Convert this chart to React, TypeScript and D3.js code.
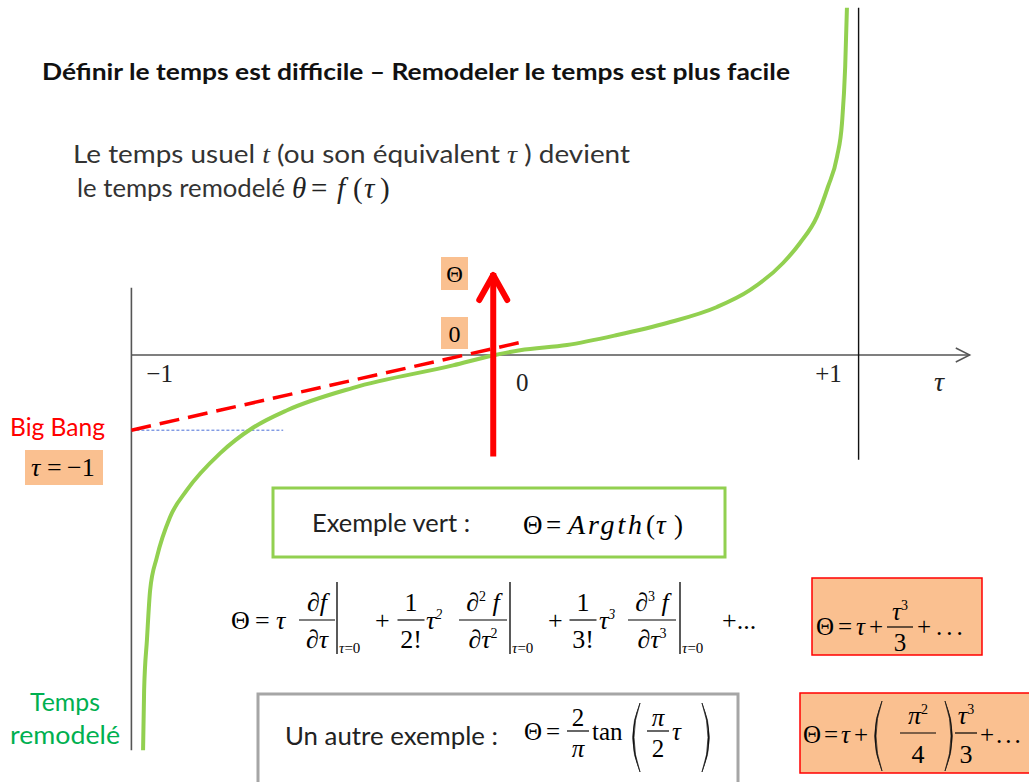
import React from 'react'
import * as d3 from 'd3'

const W = 1029
const H = 782

// courbe verte : tau -> theta
const curveTau = [-0.997, -0.994, -0.986, -0.977, -0.958, -0.921, -0.873, -0.779, -0.686, -0.589, -0.402, -0.119, 0, 0.071, 0.204, 0.346, 0.487, 0.629, 0.722, 0.816, 0.864, 0.912, 0.943, 0.969, 0.983, 0.992, 0.997]
const curveTheta = [-4.94, -4.19, -3.56, -2.94, -2.53, -2.03, -1.69, -1.23, -0.91, -0.69, -0.41, -0.13, 0, 0.06, 0.125, 0.25, 0.4, 0.6, 0.81, 1.15, 1.4, 1.73, 2.1, 2.48, 2.9, 3.6, 4.34]

// tangente rouge en pointillés
const tangentTau = [-1.03, 0.075]
const tangentTheta = [-0.94, 0.16]

// ligne bleue du Big Bang
const bigBangTau = [-1.03, -0.6]
const bigBangTheta = -0.94

// flèche rouge Theta
const arrowTau = -0.005
const arrowTheta = [-1.27, 1.05]

// axes
const hAxisTau = [-1.03, 1.345]
const leftAxisTau = -1.03
const leftAxisTheta = [0.84, -4.94]
const rightAxisTau = 1.03
const rightAxisTheta = [4.34, -1.31]

const tickLabels = ['−1', '0', '+1']
const tickLabelTau = [-0.95, 0.077, 0.945]

const GREEN = '#92d050'
const RED = '#ff0000'
const ORANGE = '#fac090'
const SERIF = '"Liberation Serif", "DejaVu Serif", serif'
const SANS = 'Lato, "Open Sans", sans-serif'

const x = d3.scaleLinear().domain([-1, 1]).range([142, 848])
const y = d3.scaleLinear().domain([-5, 5]).range([755, -45])

// petit texte math placé à la main
const M = ({ x, y, it, size = 26, children, ...rest }: any) => (
  <text x={x} y={y} fontFamily={SERIF} fontSize={size} fontStyle={it ? 'italic' : 'normal'} {...rest}>{children}</text>
)

const Frac = ({ cx, bar, w, num, den, size = 26, up = 9, down = 28 }: any) => (
  <g fontFamily={SERIF} fontSize={size}>
    <text x={cx} y={bar - up} textAnchor="middle">{num}</text>
    <line x1={cx - w / 2} x2={cx + w / 2} y1={bar} y2={bar} stroke="#000" strokeWidth={1.2} />
    <text x={cx} y={bar + down} textAnchor="middle">{den}</text>
  </g>
)

const Paren = ({ px, top, bottom, left = true }: any) => {
  const mid = (top + bottom) / 2
  const d = left ? -12 : 12
  return (
    <path
      d={`M${px},${top} Q${px + d},${mid} ${px},${bottom} Q${px + d * 1.22},${mid} ${px},${top} Z`}
      fill="#111" stroke="#111" strokeWidth={0.7}
    />
  )
}

const Eval = ({ bx, top, bottom }: any) => (
  <g>
    <line x1={bx} x2={bx} y1={top} y2={bottom} stroke="#000" strokeWidth={1.3} />
    <text x={bx + 2} y={bottom - 1} fontFamily={SERIF} fontSize={15}><tspan fontStyle="italic">τ</tspan>=0</text>
  </g>
)

const sup = (s: string) => <tspan dy={-10} fontSize={14}>{s}</tspan>

const App = () => {
  const line = d3.line<number>().x((_, i) => x(curveTau[i])).y((_, i) => y(curveTheta[i])).curve(d3.curveMonotoneX)
  const curvePath = line(curveTau) || ''
  const ax = x(arrowTau)
  const at = y(arrowTheta[1])

  return (
    <svg width={W} height={H} style={{ position: 'absolute', left: 0, top: 0, background: '#fff' }}>
      {/* titres */}
      <text x={42} y={80} fontFamily={SANS} fontWeight="bold" fontSize={23} textLength={748} lengthAdjust="spacingAndGlyphs" fill="#111">
        Définir le temps est difficile – Remodeler le temps est plus facile
      </text>
      <text x={73} y={163} fontFamily={SANS} fontSize={25} fill="#333" textLength={557} lengthAdjust="spacingAndGlyphs">
        Le temps usuel <tspan fontFamily={SERIF} fontStyle="italic">t</tspan> (ou son équivalent <tspan fontFamily={SERIF} fontStyle="italic">τ</tspan> ) devient
      </text>
      <text x={77} y={197} fontFamily={SANS} fontSize={25} fill="#333" textLength={208} lengthAdjust="spacingAndGlyphs">le temps remodelé</text>
      <g fill="#222">
        <M x={292} y={198} size={29} it>θ</M>
        <M x={311} y={198} size={29}>=</M>
        <M x={337} y={198} size={29} it>f</M>
        <M x={353} y={198} size={29}>(</M>
        <M x={364} y={198} size={29} it>τ</M>
        <M x={380} y={198} size={29}>)</M>
      </g>

      {/* axes */}
      <line x1={x(hAxisTau[0])} x2={x(hAxisTau[1])} y1={y(0)} y2={y(0)} stroke="#555" strokeWidth={1.4} />
      <path d={`M${x(hAxisTau[1]) - 14},${y(0) - 7} L${x(hAxisTau[1])},${y(0)} L${x(hAxisTau[1]) - 14},${y(0) + 7}`} fill="none" stroke="#555" strokeWidth={1.4} />
      <line x1={x(leftAxisTau)} x2={x(leftAxisTau)} y1={y(leftAxisTheta[0])} y2={y(leftAxisTheta[1])} stroke="#555" strokeWidth={1.6} />
      <line x1={x(rightAxisTau)} x2={x(rightAxisTau)} y1={y(rightAxisTheta[0])} y2={y(rightAxisTheta[1])} stroke="#111" strokeWidth={1.4} />

      {tickLabels.map((t, i) => (
        <text key={t} x={x(tickLabelTau[i])} y={i === 1 ? 391 : 382} textAnchor="middle" fontFamily={SERIF} fontSize={25} fill="#222">{t}</text>
      ))}
      <text x={939} y={391} textAnchor="middle" fontFamily={SERIF} fontStyle="italic" fontSize={28} fill="#222">τ</text>

      {/* ligne Big Bang */}
      <line x1={x(bigBangTau[0])} x2={x(bigBangTau[1])} y1={y(bigBangTheta)} y2={y(bigBangTheta)} stroke="#4a6fd8" strokeWidth={1} strokeDasharray="3,2" />

      {/* courbe verte */}
      <path d={curvePath} fill="none" stroke={GREEN} strokeWidth={4} />

      {/* tangente */}
      <line x1={x(tangentTau[0])} y1={y(tangentTheta[0])} x2={x(tangentTau[1])} y2={y(tangentTheta[1])} stroke={RED} strokeWidth={3.5} strokeDasharray="20,9" />

      {/* flèche Theta */}
      <line x1={ax} x2={ax} y1={y(arrowTheta[0])} y2={at + 2} stroke={RED} strokeWidth={6} />
      <path d={`M${ax - 14},${at + 29} L${ax},${at + 4} L${ax + 14},${at + 29}`} fill="none" stroke={RED} strokeWidth={6} strokeLinecap="round" strokeLinejoin="round" />

      <rect x={441} y={257} width={27} height={33} fill={ORANGE} />
      <text x={454.5} y={282} textAnchor="middle" fontFamily={SERIF} fontSize={23}>Θ</text>
      <rect x={441} y={317} width={27} height={32} fill={ORANGE} />
      <text x={454.5} y={342} textAnchor="middle" fontFamily={SERIF} fontSize={24}>0</text>

      {/* Big Bang */}
      <text x={10} y={436} fontFamily={SANS} fontSize={25} fill={RED} textLength={95} lengthAdjust="spacingAndGlyphs">Big Bang</text>
      <rect x={25} y={450} width={78} height={35} fill={ORANGE} />
      <M x={31} y={476} it>τ</M>
      <M x={47} y={476}>=</M>
      <M x={67} y={476}>−1</M>

      <text x={65} y={711} textAnchor="middle" fontFamily={SANS} fontSize={25} fill="#00b050" textLength={70} lengthAdjust="spacingAndGlyphs">Temps</text>
      <text x={65} y={744} textAnchor="middle" fontFamily={SANS} fontSize={25} fill="#00b050" textLength={110} lengthAdjust="spacingAndGlyphs">remodelé</text>

      {/* exemple vert */}
      <rect x={273} y={488} width={452} height={69} fill="#fff" stroke={GREEN} strokeWidth={3} />
      <text x={312} y={532} fontFamily={SANS} fontSize={25} fill="#222" textLength={158} lengthAdjust="spacingAndGlyphs">Exemple vert :</text>
      <M x={523} y={534} size={27}>Θ</M>
      <M x={546} y={534} size={27}>=</M>
      <M x={568} y={534} size={28} it textLength={74} lengthAdjust="spacing">Argth</M>
      <M x={646} y={534} size={27}>(</M>
      <M x={656} y={534} size={27} it>τ</M>
      <M x={674} y={534} size={27}>)</M>

      {/* développement de Taylor */}
      <M x={231} y={629}>Θ</M>
      <M x={255} y={629}>=</M>
      <M x={276} y={629} it>τ</M>
      <Frac cx={317} bar={620} w={36} num={<tspan>∂<tspan fontStyle="italic">f</tspan></tspan>} den={<tspan>∂<tspan fontStyle="italic">τ</tspan></tspan>} />
      <Eval bx={337} top={582} bottom={654} />
      <M x={375} y={629}>+</M>
      <Frac cx={411} bar={620} w={27} num="1" den="2!" />
      <M x={426} y={629} it>τ{sup('2')}</M>
      <Frac cx={483} bar={620} w={48} num={<tspan>∂{sup('2')}<tspan dy={10} fontStyle="italic"> f</tspan></tspan>} den={<tspan>∂<tspan fontStyle="italic">τ</tspan>{sup('2')}</tspan>} />
      <Eval bx={510} top={582} bottom={654} />
      <M x={548} y={629}>+</M>
      <Frac cx={583} bar={620} w={27} num="1" den="3!" />
      <M x={599} y={629} it>τ{sup('3')}</M>
      <Frac cx={652} bar={620} w={48} num={<tspan>∂{sup('3')}<tspan dy={10} fontStyle="italic"> f</tspan></tspan>} den={<tspan>∂<tspan fontStyle="italic">τ</tspan>{sup('3')}</tspan>} />
      <Eval bx={680} top={582} bottom={654} />
      <M x={722} y={629}>+...</M>

      {/* premier encadré orange */}
      <rect x={812} y={578} width={170} height={77} fill={ORANGE} stroke={RED} strokeWidth={1.5} />
      <M x={816} y={635} size={25}>Θ</M>
      <M x={838} y={635} size={25}>=</M>
      <M x={856} y={635} size={25} it>τ</M>
      <M x={869} y={635} size={25}>+</M>
      <Frac cx={900} bar={627} w={26} size={25} up={7} down={24} num={<tspan><tspan fontStyle="italic">τ</tspan>{sup('3')}</tspan>} den="3" />
      <M x={917} y={635} size={25}>+</M>
      <M x={936} y={635} size={25} letterSpacing={4}>...</M>

      {/* autre exemple */}
      <rect x={258} y={694} width={480} height={95} fill="#fff" stroke="#a6a6a6" strokeWidth={3} />
      <text x={285} y={745} fontFamily={SANS} fontSize={25} fill="#222" textLength={213} lengthAdjust="spacingAndGlyphs">Un autre exemple :</text>
      <M x={524} y={740} size={25}>Θ</M>
      <M x={546} y={740} size={25}>=</M>
      <Frac cx={578} bar={731} w={22} size={25} up={5} down={26} num="2" den={<tspan fontStyle="italic">π</tspan>} />
      <M x={592} y={740} size={25}>tan</M>
      <Paren px={640} top={703} bottom={772} left />
      <Frac cx={658} bar={731} w={22} size={25} up={5} down={26} num={<tspan fontStyle="italic">π</tspan>} den="2" />
      <M x={672} y={740} size={25} it>τ</M>
      <Paren px={702} top={703} bottom={772} left={false} />

      {/* second encadré orange */}
      <rect x={800} y={693} width={235} height={80} fill={ORANGE} stroke={RED} strokeWidth={1.5} />
      <M x={803} y={743} size={25}>Θ</M>
      <M x={824} y={743} size={25}>=</M>
      <M x={841} y={743} size={25} it>τ</M>
      <M x={854} y={743} size={25}>+</M>
      <Paren px={882} top={701} bottom={771} left />
      <Frac cx={918} bar={733} w={36} size={26} up={9} down={30} num={<tspan><tspan fontStyle="italic">π</tspan>{sup('2')}</tspan>} den="4" />
      <Paren px={945} top={701} bottom={771} left={false} />
      <Frac cx={966} bar={733} w={22} size={26} up={9} down={30} num={<tspan><tspan fontStyle="italic">τ</tspan>{sup('3')}</tspan>} den="3" />
      <M x={980} y={743} size={25}>+</M>
      <M x={996} y={743} size={25} letterSpacing={3}>...</M>
    </svg>
  )
}

export default App
